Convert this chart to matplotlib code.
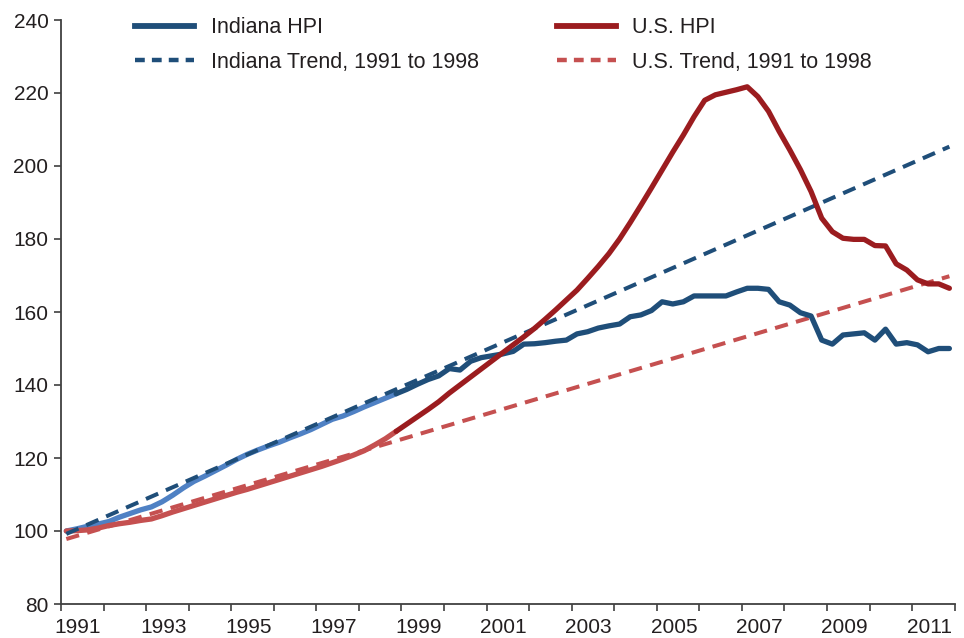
import numpy as np
import pandas as pd
import matplotlib
matplotlib.use('Agg')
import matplotlib.pyplot as plt
from matplotlib.lines import Line2D

plt.rcParams['font.family'] = ['Liberation Sans', 'DejaVu Sans']

# quarterly house price index, 1991Q1 = 100
quarters = pd.period_range('1991Q1', '2011Q4', freq='Q')
indiana_hpi = [100.0, 100.6, 101.3, 101.9, 102.6, 103.8, 104.8, 105.8,
               106.6, 108.0, 109.8, 111.8, 113.6, 115.0, 116.5, 118.0,
               119.6, 121.0, 122.2, 123.3, 124.3, 125.5, 126.6, 127.8,
               129.2, 130.6, 131.5, 132.7, 134.0, 135.2, 136.4, 137.6,
               138.8, 140.2, 141.5, 142.5, 144.5, 144.1, 146.5, 147.5,
               148.0, 148.5, 149.2, 151.2, 151.3, 151.6, 152.0, 152.3,
               154.0, 154.6, 155.6, 156.2, 156.7, 158.7, 159.2, 160.4,
               162.8, 162.2, 162.8, 164.4, 164.4, 164.4, 164.4, 165.5,
               166.5, 166.5, 166.2, 162.8, 161.9, 159.8, 158.9, 152.3,
               151.2, 153.7, 154.0, 154.3, 152.3, 155.3, 151.2, 151.6,
               151.0, 149.1, 150.0, 150.0]
us_hpi = [100.0, 100.1, 100.3, 100.8, 101.5, 102.0, 102.4, 102.9,
          103.3, 104.2, 105.2, 106.1, 107.0, 107.9, 108.8, 109.7,
          110.6, 111.4, 112.3, 113.2, 114.1, 115.0, 115.9, 116.8,
          117.7, 118.7, 119.7, 120.8, 122.0, 123.6, 125.3, 127.3,
          129.3, 131.3, 133.3, 135.4, 137.8, 140.0, 142.2, 144.4,
          146.6, 148.8, 151.0, 153.2, 155.5, 158.0, 160.6, 163.3,
          166.0, 169.2, 172.5, 176.0, 180.0, 184.5, 189.2, 194.0,
          198.9, 203.8, 208.5, 213.5, 218.0, 219.5, 220.2, 220.9,
          221.7, 219.0, 215.0, 209.5, 204.4, 199.0, 193.0, 185.7,
          182.0, 180.2, 179.9, 179.9, 178.2, 178.1, 173.2, 171.5,
          168.8, 167.7, 167.7, 166.5]
# 1991-1998 trend lines (start and end values)
indiana_trend = [99.2, 205.3]
us_trend = [97.8, 169.8]
fit_quarters = 32  # 1991Q1 .. 1998Q4

x = np.array([q.year + (q.quarter - 0.5) / 4 for q in quarters])
trend_x = [x[0], x[-1]]

dark_blue = '#1f4e79'
light_blue = '#4f81c4'
dark_red = '#9b1c1f'
light_red = '#c55050'
text_col = '#231f20'

fig = plt.figure(figsize=(9.64, 6.38), dpi=100)
ax = fig.add_axes([61 / 964, 1 - 604 / 638, (954.7 - 61) / 964, (604 - 20) / 638])

n = fit_quarters
# fitting period drawn lighter
ax.plot(x[:n], indiana_hpi[:n], color=light_blue, lw=3.8, solid_capstyle='round', zorder=2)
ax.plot(x[:n], us_hpi[:n], color=light_red, lw=3.8, solid_capstyle='round', zorder=2)
ax.plot(trend_x, indiana_trend, color=dark_blue, lw=2.9, dashes=(3.3, 2.1), zorder=3)
ax.plot(trend_x, us_trend, color=light_red, lw=2.9, dashes=(3.3, 2.1), zorder=3)
ax.plot(x[n - 1:], indiana_hpi[n - 1:], color=dark_blue, lw=3.8, solid_capstyle='round', zorder=4)
ax.plot(x[n - 1:], us_hpi[n - 1:], color=dark_red, lw=3.8, solid_capstyle='round', zorder=4)

ax.set_xlim(1991, 2012)
ax.set_ylim(80, 240)
ax.set_yticks(np.arange(80, 241, 20))
ax.set_xticks(np.arange(1991, 2013))
ax.set_xticklabels([])
ax.set_xticks(np.arange(1991, 2012, 2) + 0.4, minor=True)
ax.set_xticklabels([str(y) for y in range(1991, 2012, 2)], minor=True)
ax.tick_params(axis='x', which='major', length=5, width=1.2, color='#404040', direction='out')
ax.tick_params(axis='x', which='minor', length=0, pad=10, labelsize=15, labelcolor=text_col)
ax.tick_params(axis='y', length=5, width=1.2, color='#404040', direction='out', pad=4,
               labelsize=15, labelcolor=text_col)
for s in ['top', 'right']:
    ax.spines[s].set_visible(False)
for s in ['left', 'bottom']:
    ax.spines[s].set_color('#404040')
    ax.spines[s].set_linewidth(1.3)

handles = [Line2D([], [], color=dark_blue, lw=4.2),
           Line2D([], [], color=dark_blue, lw=3.2, dashes=(2.2, 1.6)),
           Line2D([], [], color=dark_red, lw=4.2),
           Line2D([], [], color=light_red, lw=3.2, dashes=(2.2, 1.6))]
labels = ['Indiana HPI', 'Indiana Trend, 1991 to 1998', 'U.S. HPI', 'U.S. Trend, 1991 to 1998']
leg = fig.legend(handles, labels, ncol=2, frameon=False, fontsize=15.5,
                 loc='upper left', bbox_to_anchor=(116 / 964, 1 + 2 / 638),
                 handlelength=2.74, handletextpad=0.75, columnspacing=3.66, labelspacing=0.62)
for t in leg.get_texts():
    t.set_color(text_col)

fig.savefig('out.png', dpi=100)
